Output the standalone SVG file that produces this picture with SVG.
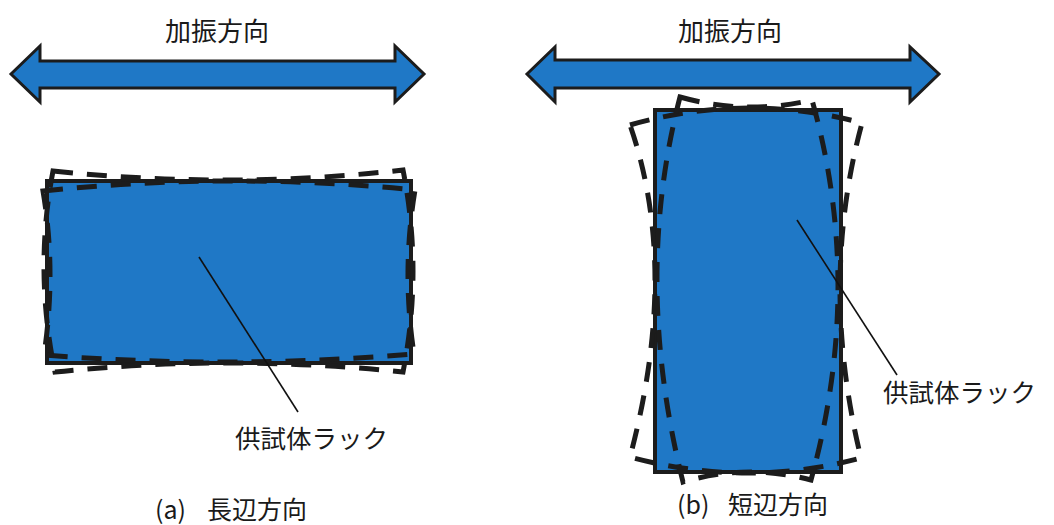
<svg xmlns="http://www.w3.org/2000/svg" width="1054" height="525" viewBox="0 0 1054 525">
<style>
.arrow{fill:#1f78c6;stroke:#1c1c1c;stroke-width:3;stroke-linejoin:miter}
.rack{fill:#1f78c6;stroke:#1c1c1c;stroke-width:4}
.dash{fill:none;stroke:#1c1c1c;stroke-width:5;stroke-dasharray:20 14}
.lead{fill:none;stroke:#111;stroke-width:1.6}
.t{font-family:"Noto Sans CJK JP","Noto Sans",sans-serif;fill:#1a1a1a}
</style>
<rect width="1054" height="525" fill="#fff"/>
<g id="arrow-a">
<polygon class="arrow" points="11,74 40,46 40,61 395,61 395,46 424,74 395,102 395,88 40,88 40,102"/>
<text class="t" x="217" y="41" font-size="26" text-anchor="middle">加振方向</text>
</g>
<g id="arrow-b">
<polygon class="arrow" points="527,74 555,47 555,60 910,60 910,47 939,74 910,102 910,88 555,88 555,102"/>
<text class="t" x="730" y="41" font-size="26" text-anchor="middle">加振方向</text>
</g>
<g id="rack-a">
<rect class="rack" x="47" y="181" width="364" height="182"/>
<path class="dash" d="M53,171 Q230,189.5 403,170 Q423,271 403,372 Q229,354 55,372 Q34,270.5 53,171 Z"/>
<path class="dash" d="M43,191 Q229,171.5 415,190 Q401.5,272 414,354 Q229,369.5 44,355 Q56.5,271 43,191 Z"/>
</g>
<g id="rack-b">
<rect class="rack" x="655" y="110" width="186" height="362"/>
<path class="dash" d="M630,125 Q746,92 862,123 Q818.5,283.5 861,458 Q746.5,488.5 630,457 Q680,269 630,125 Z"/>
<path class="dash" d="M680,97 Q746,115.5 812,100 Q864.5,286 811,480 Q747,463 683,482 Q632.5,280.5 680,97 Z"/>
</g>
<g id="connectors">
<line class="lead" x1="199" y1="257" x2="298" y2="412"/>
<line class="lead" x1="797" y1="220" x2="897" y2="375"/>
</g>
<g id="label-rack-a">
<text class="t" x="235" y="448" font-size="25.5">供試体ラック</text>
</g>
<g id="label-rack-b">
<text class="t" x="883" y="402" font-size="25.5">供試体ラック</text>
</g>
<g id="caption-a">
<text class="t" font-size="25" y="519"><tspan x="155">(a)</tspan><tspan x="207">長辺方向</tspan></text>
</g>
<g id="caption-b">
<text class="t" font-size="25" y="514"><tspan x="677">(b)</tspan><tspan x="728">短辺方向</tspan></text>
</g>
</svg>
